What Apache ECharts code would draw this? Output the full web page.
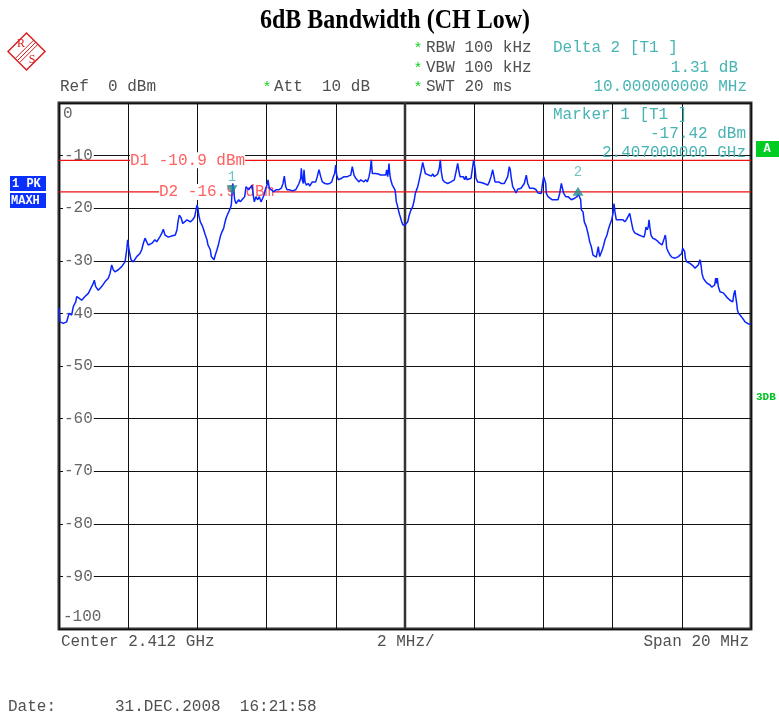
<!DOCTYPE html>
<html><head><meta charset="utf-8">
<script src="https://cdn.jsdelivr.net/npm/echarts@6/dist/echarts.min.js"></script>
<style>html,body{margin:0;padding:0;background:#fff}#c{width:779px;height:713px}</style>
</head><body><div id="c"></div>
<script>
// ---------- chart values ----------
const titleText = '6dB Bandwidth (CH Low)';
const centerGHz = 2.412;
const spanMHz = 20;
const divMHz = 2;
const refLevelDbm = 0;
const bottomDbm = -100;
const stepDb = 10;
const settingsLeft = ['RBW 100 kHz', 'VBW 100 kHz', 'SWT 20 ms'];
const attText = 'Att  10 dB';
const dateText = '31.DEC.2008  16:21:58';

const displayLineNames = ['D1', 'D2'];
const displayLineLevels = [-10.9, -16.9];

const markerNames = ['1', '2'];
const markerOffsetsMHz = [5, 15];       // offset from start frequency
const markerLevels = [-17.42, -16.11];  // dBm

// trace: [offset from start frequency (MHz), level (dBm)]
const trace = [
[0.000,-39.0],[0.029,-41.6],[0.124,-41.9],[0.223,-41.6],[0.289,-40.0],[0.367,-40.3],[0.413,-38.7],[0.483,-37.8],[0.512,-36.8],[0.578,-37.1],
[0.656,-37.5],[0.751,-36.8],[0.847,-36.2],[0.945,-34.9],[0.991,-34.3],[1.020,-33.7],[1.061,-34.9],[1.136,-35.6],[1.234,-34.9],[1.329,-34.0],
[1.425,-33.3],[1.474,-32.4],[1.523,-30.8],[1.569,-31.7],[1.618,-32.1],[1.714,-31.7],[1.812,-31.1],[1.908,-30.2],[1.957,-27.9],[1.986,-26.0],
[2.023,-27.9],[2.081,-29.8],[2.147,-30.2],[2.246,-29.2],[2.341,-28.6],[2.390,-27.9],[2.436,-26.7],[2.486,-25.7],[2.535,-26.4],[2.581,-27.0],
[2.679,-26.7],[2.775,-26.0],[2.824,-26.4],[2.919,-25.4],[2.968,-24.8],[3.014,-24.0],[3.064,-25.1],[3.159,-25.5],[3.257,-25.3],
[3.361,-25.1],[3.410,-24.1],[3.439,-22.6],[3.477,-21.3],[3.535,-21.9],[3.575,-22.9],[3.633,-22.6],[3.699,-22.2],[3.795,-22.6],[3.864,-22.2],
[3.922,-21.6],[3.960,-20.3],[3.988,-19.4],[4.017,-20.0],[4.038,-21.3],[4.084,-22.6],[4.133,-23.2],[4.182,-24.1],[4.228,-25.1],[4.277,-26.0],
[4.306,-27.0],[4.344,-27.0],[4.373,-27.9],[4.402,-29.2],[4.442,-29.5],[4.480,-29.8],[4.517,-28.9],[4.566,-27.9],[4.616,-26.7],[4.662,-25.4],
[4.711,-24.5],[4.760,-23.8],[4.789,-22.9],[4.827,-21.9],[4.864,-21.3],[4.905,-20.7],[4.951,-20.0],[4.980,-19.4],[5.000,-17.2],[5.020,-15.3],
[5.049,-16.5],[5.078,-18.4],[5.116,-19.1],[5.153,-18.8],[5.194,-18.4],[5.240,-18.8],[5.289,-18.4],[5.338,-18.1],[5.367,-17.8],[5.405,-15.9],
[5.442,-16.2],[5.483,-16.5],[5.529,-16.2],[5.578,-15.6],[5.607,-17.2],[5.645,-18.8],[5.694,-17.8],[5.743,-18.4],[5.789,-17.8],[5.838,-18.8],
[5.887,-18.1],[5.925,-17.5],[5.962,-16.5],[6.012,-15.6],[6.040,-14.6],[6.078,-16.2],[6.136,-16.5],[6.205,-16.9],[6.272,-16.5],[6.350,-16.5],
[6.425,-16.2],[6.474,-15.3],[6.512,-13.9],[6.552,-15.9],[6.590,-16.5],[6.656,-16.5],
[6.743,-16.7],[6.841,-16.5],[6.887,-16.2],[6.936,-15.3],[6.986,-14.3],[7.003,-12.4],[7.032,-14.6],[7.061,-15.3],[7.081,-12.7],[7.110,-15.0],
[7.147,-15.6],[7.205,-15.3],[7.246,-15.8],[7.283,-15.6],[7.321,-15.0],[7.370,-15.3],[7.419,-15.0],[7.465,-14.0],[7.514,-12.7],[7.564,-14.0],
[7.610,-15.0],[7.688,-15.3],[7.754,-15.4],[7.824,-15.3],[7.882,-15.0],[7.928,-14.0],[7.968,-13.4],[7.997,-11.8],[8.026,-13.7],[8.072,-14.6],
[8.113,-14.3],[8.171,-14.3],[8.237,-14.0],[8.286,-13.7],[8.332,-14.0],[8.382,-14.3],[8.431,-13.7],[8.477,-12.1],[8.526,-13.7],[8.575,-14.3],
[8.621,-14.6],[8.671,-15.0],[8.720,-14.6],[8.766,-14.8],[8.815,-15.0],[8.864,-14.6],[8.911,-15.0],[8.960,-14.0],[8.997,-12.7],[9.026,-10.8],
[9.055,-13.4],[9.095,-13.7],[9.153,-13.4],[9.228,-13.5],[9.298,-13.7],[9.364,-13.7],[9.413,-13.4],[9.442,-13.7],[9.471,-12.7],[9.500,-14.0],
[9.517,-13.1],[9.538,-11.5],[9.558,-13.4],[9.587,-14.6],[9.633,-15.6],[9.682,-15.9],[9.711,-16.5],[9.731,-17.5],[9.749,-18.8],[9.778,-19.4],
[9.806,-20.3],[9.847,-21.3],[9.876,-21.9],[9.905,-22.6],[9.942,-23.2],[10.000,-23.2],
[10.078,-22.6],[10.124,-21.3],[10.173,-20.3],[10.223,-19.7],[10.269,-18.4],[10.298,-17.2],[10.338,-16.9],[10.367,-15.9],[10.413,-14.6],[10.462,-13.1],
[10.512,-11.3],[10.540,-12.1],[10.587,-13.4],[10.627,-13.7],[10.685,-13.7],[10.723,-13.5],[10.760,-13.9],[10.801,-13.5],[10.847,-14.0],[10.896,-13.9],
[10.945,-13.5],[10.991,-12.4],[11.020,-10.8],[11.049,-13.1],[11.090,-14.6],[11.136,-15.0],[11.185,-15.0],[11.234,-15.3],[11.281,-15.6],[11.329,-15.0],
[11.379,-15.0],[11.425,-14.6],[11.474,-13.1],[11.523,-11.5],[11.552,-12.7],[11.590,-14.0],[11.639,-14.3],[11.685,-14.0],[11.725,-14.6],[11.763,-13.9],
[11.792,-14.6],[11.841,-14.3],[11.908,-14.3],[11.957,-14.0],[11.986,-10.8],[12.023,-12.4],[12.052,-14.3],[12.101,-15.0],[12.147,-15.3],[12.197,-15.1],
[12.246,-15.0],[12.292,-15.3],[12.341,-15.2],[12.390,-15.6],[12.436,-15.0],[12.486,-14.0],[12.535,-12.7],[12.572,-12.9],[12.601,-15.0],[12.650,-15.3],
[12.708,-15.0],[12.775,-15.3],[12.824,-15.6],[12.870,-15.3],[12.919,-15.0],[12.968,-14.0],[13.014,-12.1],[13.043,-12.7],[13.072,-14.3],[13.113,-15.9],
[13.159,-16.4],[13.208,-17.1],[13.257,-16.4],[13.303,-16.5],[13.353,-16.2],[13.402,-16.5],[13.448,-15.3],
[13.506,-13.7],[13.546,-15.3],[13.604,-16.2],[13.699,-16.2],[13.777,-16.4],[13.844,-17.1],[13.893,-16.9],[13.939,-17.2],[13.968,-15.6],[14.009,-14.0],
[14.038,-13.7],[14.066,-15.3],[14.084,-17.2],[14.133,-17.8],[14.182,-18.1],[14.257,-18.4],[14.327,-18.4],[14.373,-18.3],[14.422,-18.4],[14.471,-17.2],
[14.518,-15.3],[14.546,-15.3],[14.587,-17.2],[14.645,-17.8],[14.711,-17.8],[14.760,-18.1],[14.806,-18.4],[14.855,-18.6],[14.905,-18.1],[14.934,-18.4],
[14.971,-17.8],[15.009,-17.3],[15.049,-17.5],[15.078,-18.4],[15.095,-20.3],[15.145,-20.7],[15.182,-22.6],[15.240,-23.5],[15.289,-24.8],[15.338,-26.4],
[15.384,-27.3],[15.434,-28.9],[15.483,-29.2],[15.529,-29.3],[15.558,-28.3],[15.587,-27.3],[15.627,-29.2],[15.673,-29.1],[15.702,-27.9],[15.743,-27.0],
[15.780,-26.0],[15.838,-25.1],[15.887,-23.8],[15.934,-22.9],[15.974,-22.2],[16.012,-21.0],[16.040,-19.1],[16.069,-20.7],[16.107,-22.2],[16.156,-21.9],
[16.205,-22.2],[16.251,-21.9],[16.301,-22.2],[16.350,-22.6],[16.396,-22.2],[16.445,-21.9],[16.494,-21.0],[16.523,-20.7],[16.552,-22.9],[16.590,-24.1],
[16.639,-24.7],[16.685,-24.8],[16.763,-25.1],
[16.841,-25.3],[16.908,-25.5],[16.936,-24.8],[16.965,-23.6],[17.003,-24.1],[17.032,-23.5],[17.052,-22.2],[17.081,-23.8],[17.110,-25.1],[17.159,-25.7],
[17.226,-25.9],[17.292,-26.2],[17.350,-26.6],[17.390,-26.7],[17.428,-27.0],[17.466,-26.8],[17.494,-25.7],[17.523,-25.1],[17.543,-26.0],[17.564,-27.6],
[17.610,-28.3],[17.659,-28.9],[17.708,-29.3],[17.754,-29.5],[17.803,-29.5],[17.853,-29.5],[17.899,-29.2],[17.948,-29.1],[17.997,-28.6],[18.026,-27.6],
[18.055,-27.3],[18.084,-28.3],[18.101,-29.5],[18.142,-30.2],[18.188,-30.4],[18.237,-30.5],[18.286,-30.6],[18.332,-31.0],[18.382,-31.4],[18.431,-31.2],
[18.477,-30.8],[18.506,-30.2],[18.526,-29.8],[18.555,-30.8],[18.584,-32.4],[18.621,-33.3],[18.671,-33.8],[18.720,-34.2],[18.766,-34.4],[18.815,-34.6],
[18.864,-35.0],[18.911,-35.2],[18.951,-34.6],[18.980,-33.3],[19.009,-34.3],[19.026,-33.3],[19.055,-34.9],[19.104,-35.9],[19.153,-36.2],[19.199,-36.1],
[19.249,-36.5],[19.298,-36.9],[19.344,-37.1],[19.393,-37.5],[19.442,-37.3],[19.471,-37.8],[19.509,-36.2],[19.538,-35.6],[19.558,-36.8],[19.587,-38.1],
[19.604,-39.2],[19.633,-39.9],[19.682,-40.3],[19.731,-40.7],[19.777,-41.1],[19.827,-41.6],[19.876,-41.9],[19.922,-42.0],[19.971,-41.9],[20.000,-42.0]
];

// ---------- styling / layout ----------
const MONO = '"Liberation Mono", "Courier New", monospace';
const SERIF = '"Liberation Serif", "Times New Roman", serif';
const TXT = '#505050';
const CYAN = '#48b4b4';
const GREEN = '#10d020';
const startMHz = centerGHz * 1000 - spanMHz / 2;

const chart = echarts.init(document.getElementById('c'), null, {renderer: 'canvas'});

const G = [];
function txt(x, y, s, o) {
  o = o || {};
  const al = o.align || 'left';
  const el = {type: 'text', x: x, y: y, z: o.z || 20, silent: true, style: {
    text: s, font: (o.weight || 'normal') + ' ' + (o.size || 16) + 'px ' + (o.family || MONO),
    fill: o.color || TXT, textAlign: al, align: al, textVerticalAlign: 'middle', verticalAlign: 'middle',
    backgroundColor: o.bg, padding: o.pad
  }};
  if (o.scaleY) el.scaleY = o.scaleY;
  G.push(el);
}
// title
txt(395, 21, titleText, {family: SERIF, size: 24, weight: 'bold', color: '#000', align: 'center', scaleY: 1.12});
// R&S logo
G.push({type: 'polygon', z: 20, shape: {points: [[26.5, 33], [45, 51.5], [26.5, 70], [8, 51.5]]},
  style: {fill: 'none', stroke: '#d82020', lineWidth: 1.5}});
[-3, 0, 3].forEach(function (k) {
  const cx = 26.5 + k * 0.707, cy = 51.5 + k * 0.707;
  G.push({type: 'line', z: 20, shape: {x1: cx - 9, y1: cy + 9, x2: cx + 9, y2: cy - 9}, style: {stroke: '#d82020', lineWidth: 1}});
});
txt(21, 44, 'R', {family: SERIF, size: 12, color: '#d82020', align: 'center'});
txt(32, 60, 'S', {family: SERIF, size: 12, color: '#d82020', align: 'center'});

// header settings
const rowsY = [48, 68, 87];
settingsLeft.forEach(function (s, i) {
  txt(418, rowsY[i] + 1, '*', {color: GREEN, size: 15, align: 'center'});
  txt(426, rowsY[i], s);
});
txt(60, 87, 'Ref  ' + refLevelDbm + ' dBm');
txt(267, 88, '*', {color: GREEN, size: 15, align: 'center'});
txt(274, 87, attText);

// delta marker readout
const deltaDb = markerLevels[1] - markerLevels[0];
const deltaMHz = markerOffsetsMHz[1] - markerOffsetsMHz[0];
txt(553, 48, 'Delta 2 [T1 ]', {color: CYAN});
txt(738, 68, deltaDb.toFixed(2) + ' dB', {color: CYAN, align: 'right'});
txt(747, 87, deltaMHz.toFixed(9) + ' MHz', {color: CYAN, align: 'right'});
// marker 1 readout
txt(553, 115, 'Marker 1 [T1 ]', {color: CYAN});
txt(746, 134, markerLevels[0].toFixed(2) + ' dBm', {color: CYAN, align: 'right'});
txt(746, 153, ((startMHz + markerOffsetsMHz[0]) / 1000).toFixed(9) + ' GHz', {color: CYAN, align: 'right'});

// side boxes
G.push({type: 'rect', z: 20, shape: {x: 756, y: 141, width: 24, height: 16}, style: {fill: '#00cc22'}});
txt(767, 149, 'A', {color: '#fff', weight: 'bold', size: 12, align: 'center'});
txt(756, 397, '3DB', {color: '#00c020', weight: 'bold', size: 11});
G.push({type: 'rect', z: 20, shape: {x: 10, y: 176, width: 36, height: 15}, style: {fill: '#0a30ff'}});
G.push({type: 'rect', z: 20, shape: {x: 10, y: 193, width: 36, height: 15}, style: {fill: '#0a30ff'}});
txt(12, 184, '1 PK', {color: '#fff', weight: 'bold', size: 12});
txt(11, 201, 'MAXH', {color: '#fff', weight: 'bold', size: 12});

// bottom texts
txt(61, 642, 'Center ' + centerGHz + ' GHz');
txt(377, 642, divMHz + ' MHz/');
txt(749, 642, 'Span ' + spanMHz + ' MHz', {align: 'right'});
txt(8, 707, 'Date:');
txt(115, 707, dateText);

const series = [
  { // center frequency line (thicker)
    type: 'line', z: 1, silent: true, symbol: 'none',
    data: [[spanMHz / 2, bottomDbm], [spanMHz / 2, refLevelDbm]],
    lineStyle: {color: '#333', width: 2.5}
  }
];
displayLineLevels.forEach(function (lv) {
  series.push({type: 'line', z: 3, silent: true, symbol: 'none',
    data: [[0, lv], [spanMHz, lv]], lineStyle: {color: '#ee1010', width: 1.3}});
});
series.push({
  type: 'line', z: 6, silent: true, symbol: 'none', data: trace,
  lineStyle: {color: '#0a24ff', width: 1.5}
});
series.push({
  type: 'scatter', z: 8, silent: true,
  data: markerNames.map(function (n, i) {
    return {
      name: n, value: [markerOffsetsMHz[i], markerLevels[i]],
      symbol: 'triangle', symbolSize: [11, 9],
      symbolRotate: i === 0 ? 180 : 0,
      symbolOffset: i === 0 ? [0, -5] : [0, 3.5],
      label: {show: true, position: 'top', distance: i === 0 ? 1 : 7, formatter: n,
        color: CYAN, fontFamily: MONO, fontSize: 14}
    };
  }),
  itemStyle: {color: '#1f8f8f'}
});

const labelRich = {
  m: {backgroundColor: '#fff', color: '#666', fontFamily: MONO, fontSize: 16, padding: [0, 1]},
  t: {color: '#666', fontFamily: MONO, fontSize: 16, padding: [22, 0, 0, 0]},
  b: {color: '#666', fontFamily: MONO, fontSize: 16, padding: [0, 0, 24, 0]}
};

chart.setOption({
  animation: false,
  backgroundColor: '#fff',
  grid: {left: 59, right: 28, top: 103, bottom: 84, show: true, borderColor: '#333', borderWidth: 3, backgroundColor: '#fff'},
  xAxis: {
    type: 'value', min: 0, max: spanMHz, interval: divMHz,
    axisLine: {show: false}, axisTick: {show: false}, axisLabel: {show: false},
    splitLine: {show: true, lineStyle: {color: '#111', width: 1}}
  },
  yAxis: {
    type: 'value', min: bottomDbm, max: refLevelDbm, interval: stepDb,
    axisLine: {show: false}, axisTick: {show: false},
    splitLine: {show: true, lineStyle: {color: '#111', width: 1}},
    axisLabel: {
      inside: true, margin: 4, fontFamily: MONO, fontSize: 16, color: '#666',
      formatter: function (v) {
        if (v === refLevelDbm) return '{t|' + v + '}';
        if (v === bottomDbm) return '{b|' + v + '}';
        return '{m|' + v + '}';
      },
      rich: labelRich
    }
  },
  series: series,
  graphic: {elements: G}
});

// display line labels (D1/D2) placed on their lines
const dLabelAnchorsMHz = [2.05, 2.89];
displayLineNames.forEach(function (n, i) {
  const p = chart.convertToPixel({gridIndex: 0}, [dLabelAnchorsMHz[i], displayLineLevels[i]]);
  txt(p[0], p[1], n + ' ' + displayLineLevels[i].toFixed(1) + ' dBm', {color: '#ff6060', bg: '#fff', z: 4});
});
chart.setOption({graphic: {elements: G}}, {replaceMerge: ['graphic']});
</script>
</body></html>
